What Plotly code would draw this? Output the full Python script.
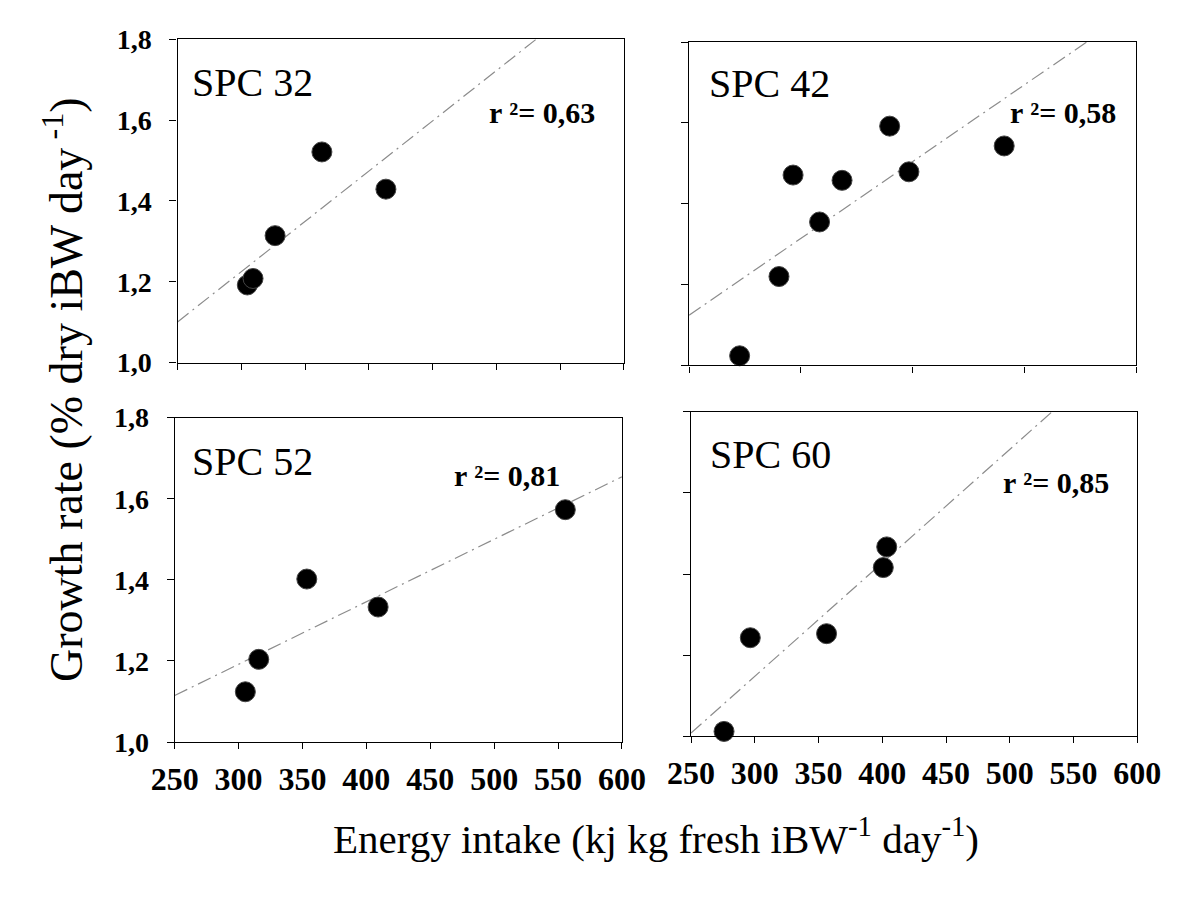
import numpy as np
import plotly.graph_objects as go

# ---------------- data ----------------
panel_names = ["SPC 32", "SPC 42", "SPC 52", "SPC 60"]
r2_labels = ["r ²= 0,63", "r ²= 0,58", "r ²= 0,81", "r ²= 0,85"]

spc32_x = [304.7, 309.2, 326.5, 363.2, 413.4]
spc32_y = [1.192, 1.208, 1.314, 1.521, 1.429]

spc42_x = [295.2, 330.4, 343.0, 366.7, 386.8, 429.4, 446.6, 531.8]
spc42_y = [1.024, 1.220, 1.471, 1.355, 1.458, 1.592, 1.479, 1.543]

spc52_x = [305.3, 315.8, 353.4, 409.2, 555.7]
spc52_y = [1.124, 1.204, 1.402, 1.333, 1.573]

spc60_x = [275.9, 296.5, 356.3, 400.8, 403.5]
spc60_y = [1.012, 1.243, 1.253, 1.416, 1.467]

y_ticks = [1.0, 1.2, 1.4, 1.6, 1.8]
x_ranges = [[250, 600], [250, 650], [250, 600], [250, 600]]
x_dticks = [50, 100, 50, 50]

series = [(spc32_x, spc32_y), (spc42_x, spc42_y), (spc52_x, spc52_y), (spc60_x, spc60_y)]

# ---------------- layout geometry (pixels) ----------------
W, H = 1192, 900
# (left, right, top, bottom) in px
boxes = [(160, 625, 25, 360), (693, 1159, 28, 363), (157, 623, 417, 753), (695, 1160, 411, 747)]
name_pos = [(0.028, 0.866), (0.041, 0.871), (0.034, 0.866), (0.037, 0.869)]
r2_pos = [(0.94, 0.773), (0.959, 0.781), (0.865, 0.821), (0.94, 0.783)]

FONT = "Liberation Serif, Times New Roman, serif"

fig = go.Figure()
layout_axes = {}
annotations = []

for i, ((xs, ys), box) in enumerate(zip(series, boxes)):
    n = i + 1
    xa = "x" if n == 1 else f"x{n}"
    ya = "y" if n == 1 else f"y{n}"
    xkey = "xaxis" if n == 1 else f"xaxis{n}"
    ykey = "yaxis" if n == 1 else f"yaxis{n}"
    l, r, t, b = box

    # regression line computed from the data
    slope, icpt = np.polyfit(xs, ys, 1)
    fx = np.array(x_ranges[i], dtype=float)
    fy = slope * fx + icpt
    fig.add_trace(go.Scatter(
        x=fx, y=fy, mode="lines", xaxis=xa, yaxis=ya,
        line=dict(color="#8c8c8c", width=1.2, dash="14px,5px,2px,5px"),
        showlegend=False, hoverinfo="skip"))

    fig.add_trace(go.Scatter(
        x=xs, y=ys, mode="markers", xaxis=xa, yaxis=ya, cliponaxis=False,
        marker=dict(size=20, color="black", line=dict(color="#444444", width=1)),
        showlegend=False))

    show_x_labels = i >= 2
    show_y_labels = i in (0, 2)
    layout_axes[xkey] = dict(
        domain=[l / W, r / W], anchor=ya, range=x_ranges[i],
        tickmode="linear", tick0=250, dtick=x_dticks[i],
        showticklabels=show_x_labels, ticks="outside", ticklen=6, tickwidth=1.2,
        tickcolor="black", showline=True, linecolor="black", linewidth=1.3,
        mirror=True, showgrid=False, zeroline=False,
        tickfont=dict(family=FONT, size=32, color="black", weight="bold"),
        ticklabelstandoff=2,
    )
    layout_axes[ykey] = dict(
        domain=[1 - b / H, 1 - t / H], anchor=xa, range=[1.0, 1.8],
        tickmode="array", tickvals=y_ticks, tickformat=".1f",
        showticklabels=show_y_labels, ticks="outside", ticklen=7, tickwidth=1.2,
        tickcolor="black", showline=True, linecolor="black", linewidth=1.3,
        mirror=True, showgrid=False, zeroline=False,
        tickfont=dict(family=FONT, size=28, color="black", weight="bold"),
        ticklabelstandoff=12,
    )

    annotations.append(dict(
        text=panel_names[i], xref=f"{xa} domain", yref=f"{ya} domain",
        x=name_pos[i][0], y=name_pos[i][1], xanchor="left", yanchor="middle",
        showarrow=False, font=dict(family=FONT, size=40, color="black")))
    annotations.append(dict(
        text=r2_labels[i], xref=f"{xa} domain", yref=f"{ya} domain",
        x=r2_pos[i][0], y=r2_pos[i][1], xanchor="right", yanchor="middle",
        showarrow=False, font=dict(family=FONT, size=30, color="black", weight="bold")))

annotations.append(dict(
    text="Growth rate (% dry iBW day<sup> -1</sup>)", xref="paper", yref="paper",
    x=40 / W, y=1 - 388 / H, xanchor="center", yanchor="middle", textangle=-90,
    showarrow=False, font=dict(family=FONT, size=46, color="black")))
annotations.append(dict(
    text="Energy intake (kj kg fresh iBW<sup>-1</sup> day<sup>-1</sup>)", xref="paper", yref="paper",
    x=659 / W, y=1 - 850 / H, xanchor="center", yanchor="middle",
    showarrow=False, font=dict(family=FONT, size=41, color="black")))

fig.update_layout(
    width=W, height=H, margin=dict(l=0, r=0, t=0, b=0),
    paper_bgcolor="white", plot_bgcolor="white",
    separators=", ", showlegend=False,
    annotations=annotations, **layout_axes)

fig.write_html("out.html")
